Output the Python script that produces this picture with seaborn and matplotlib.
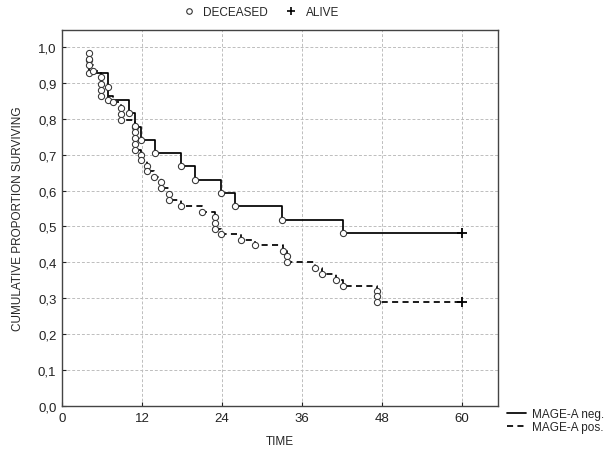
import numpy as np
import pandas as pd
import matplotlib
matplotlib.use('Agg')
import matplotlib.pyplot as plt
from matplotlib.lines import Line2D
from matplotlib.ticker import FixedLocator, FuncFormatter
import seaborn as sns

sns.set_theme(style='white')
plt.rcParams['font.family'] = ['Liberation Sans', 'DejaVu Sans']

# death times and survival after each death
neg_times = [4.0, 4.0, 6.9, 6.9, 10.0, 10.95, 11.85, 14.0, 17.9, 19.9, 23.8, 25.9, 33.0, 42.1]
neg_surv = [0.963, 0.926, 0.889, 0.852, 0.815, 0.778, 0.741, 0.704, 0.667, 0.630, 0.593, 0.556, 0.519, 0.481]

pos_times = [4.0, 4.0, 4.0, 4.7, 5.8, 5.8, 5.8, 5.8, 7.7, 8.9, 8.9, 8.9,
             10.9, 10.9, 10.9, 10.9, 10.9, 11.85, 11.85, 12.7, 12.7, 13.8,
             14.9, 14.9, 16.0, 16.0, 17.85, 21.0, 23.0, 23.0, 23.0, 23.9,
             26.9, 29.0, 33.2, 33.8, 33.8, 38.0, 39.0, 41.1, 42.1, 47.2, 47.2, 47.2]
pos_surv = [0.983, 0.967, 0.950, 0.932, 0.915, 0.898, 0.881, 0.864, 0.847, 0.830, 0.813, 0.797,
            0.780, 0.763, 0.746, 0.729, 0.712, 0.699, 0.686, 0.669, 0.655, 0.639,
            0.624, 0.608, 0.589, 0.573, 0.557, 0.540, 0.526, 0.510, 0.493, 0.478,
            0.463, 0.447, 0.433, 0.417, 0.400, 0.384, 0.367, 0.352, 0.335, 0.321, 0.306, 0.290]

end_time = 60
groups = ['MAGE-A neg.', 'MAGE-A pos.']


def step_frame(times, surv):
    # curve starts at the first event and runs to the end of follow-up
    t = list(times) + [end_time]
    s = list(surv) + [surv[-1]]
    return pd.DataFrame({'time': t, 'surv': s})


fig = plt.figure(figsize=(6.16, 4.52), dpi=100)
ax = fig.add_axes([62 / 616, 1 - 407 / 452, 436 / 616, 376 / 452])

styles = {'MAGE-A neg.': '-', 'MAGE-A pos.': (0, (3.5, 2.5))}
for name, times, surv in [(groups[0], neg_times, neg_surv), (groups[1], pos_times, pos_surv)]:
    d = step_frame(times, surv)
    sns.lineplot(data=d, x='time', y='surv', estimator=None, sort=False,
                 drawstyle='steps-post', color='black', linewidth=1.25,
                 linestyle=styles[name], ax=ax, zorder=3)
    ev = pd.DataFrame({'time': times, 'surv': surv})
    sns.scatterplot(data=ev, x='time', y='surv', marker='o', s=20, color='white',
                    edgecolor='#333333', linewidth=0.75, ax=ax, zorder=4)
    ax.plot([end_time], [surv[-1]], marker='+', color='black', markersize=6.5,
            markeredgewidth=1.3, linestyle='none', zorder=5)

ax.set_xlim(0, 65.4)
ax.set_ylim(0, 1.047)
ax.xaxis.set_major_locator(FixedLocator([0, 12, 24, 36, 48, 60]))
ax.yaxis.set_major_locator(FixedLocator(np.round(np.arange(0, 1.01, 0.1), 1)))
ax.yaxis.set_major_formatter(FuncFormatter(lambda v, p: f'{v:.1f}'.replace('.', ',')))
ax.grid(True, color='#bdbdbd', linestyle=(0, (3, 2)), linewidth=0.7)
ax.tick_params(axis='both', direction='in', length=3, width=0.8, labelsize=9.5,
               colors='#222222', bottom=True, left=True, pad=4)
for sp in ax.spines.values():
    sp.set_color('#444444')
    sp.set_linewidth(1.0)

ax.set_xlabel('TIME', fontsize=8.5, labelpad=8)
ax.set_ylabel('CUMULATIVE PROPORTION SURVIVING', fontsize=8.5, labelpad=10)

# top legend: event markers
top_handles = [
    Line2D([], [], marker='o', linestyle='none', markersize=4, markerfacecolor='white',
           markeredgecolor='#333333', markeredgewidth=0.8),
    Line2D([], [], marker='+', linestyle='none', markersize=5.5, color='black', markeredgewidth=1.2),
]
fig.legend(top_handles, ['DECEASED', 'ALIVE'], loc='center', bbox_to_anchor=(258 / 616, 1 - 13 / 452),
           ncol=2, frameon=False, fontsize=8.5, handletextpad=0.2, columnspacing=1.0)

# bottom-right legend: groups
grp_handles = [Line2D([], [], color='black', linewidth=1.25, linestyle=styles[g]) for g in groups]
fig.legend(grp_handles, groups, loc='upper left', bbox_to_anchor=(499 / 616, 1 - 401 / 452),
           frameon=False, fontsize=8.5, handlelength=1.6, handletextpad=0.5,
           labelspacing=0.1, borderpad=0.2)

fig.savefig('out.png', dpi=100)
plt.close()
